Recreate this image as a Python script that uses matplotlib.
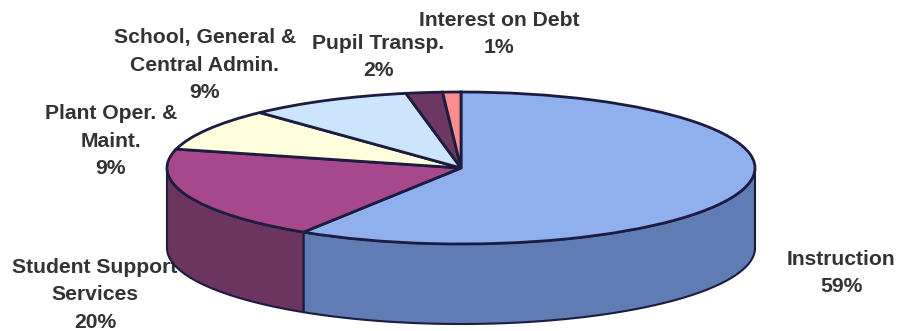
import numpy as np
import matplotlib

matplotlib.use("Agg")
import matplotlib.pyplot as plt

WIDTH, HEIGHT = 899, 331

# Budget shares, clockwise from 12 o'clock
categories = ["Instruction", "Student Support\nServices", "Plant Oper. &\nMaint.",
              "School, General &\nCentral Admin.", "Pupil Transp.", "Interest on Debt"]
shares = [59, 20, 9, 9, 2, 1]
top_colors = ["#8FB0EC", "#A8488C", "#FFFFDD", "#CCE5FC", "#6C3862", "#FF8D8D"]
side_colors = ["#5F7DB4", "#6B3560", "#BDBDA0", "#98A9BC", "#4E2847", "#BD6A6A"]
label_centers = [(841, 273), (95, 295), (111, 141), (205, 65), (378, 57), (499, 34)]

# Ellipse geometry in pixels; the axes use unit-circle coordinates
CX, CY, RX, RY, DEPTH = 461, 168, 294, 76, 80
EDGE = "#1C1C40"
TEXT = "#333333"


def px(x, y):
    return (x - CX) / RX, (CY - y) / RY


fig = plt.figure(figsize=(WIDTH / 100, HEIGHT / 100), dpi=100)
ax = fig.add_axes([0, 0, 1, 1])

# Labels go first so the pie wall can overlap them
for cat, share, (x, y) in zip(categories, shares, label_centers):
    tx, ty = px(x, y)
    ax.text(tx, ty, f"{cat}\n{share}%", ha="center", va="center", multialignment="center",
            family="Liberation Sans", fontweight="bold", fontsize=15.2, color=TEXT,
            linespacing=1.57, zorder=1)

# Side wall: only the front half of the rim (90 to 270 degrees clockwise) shows
depth = DEPTH / RY
edges = np.cumsum([0] + shares) * 3.6
for start, stop, color in zip(edges[:-1], edges[1:], side_colors):
    lo, hi = max(start, 90), min(stop, 270)
    if lo >= hi:
        continue
    theta = np.radians(np.linspace(lo, hi, 120))
    xs, ys = np.sin(theta), np.cos(theta)
    ax.fill(np.r_[xs, xs[::-1]], np.r_[ys, ys[::-1] - depth], facecolor=color,
            edgecolor=EDGE, linewidth=1.5, joinstyle="round", zorder=2)

wedges, _ = ax.pie(shares, colors=top_colors, startangle=90, counterclock=False, radius=1,
                   wedgeprops={"edgecolor": EDGE, "linewidth": 2, "zorder": 3})

ax.set_aspect("auto")
x0, y0 = px(0, HEIGHT)
x1, y1 = px(WIDTH, 0)
ax.set_xlim(x0, x1)
ax.set_ylim(y0, y1)
ax.axis("off")

fig.savefig("out.png", dpi=100)
plt.close(fig)
